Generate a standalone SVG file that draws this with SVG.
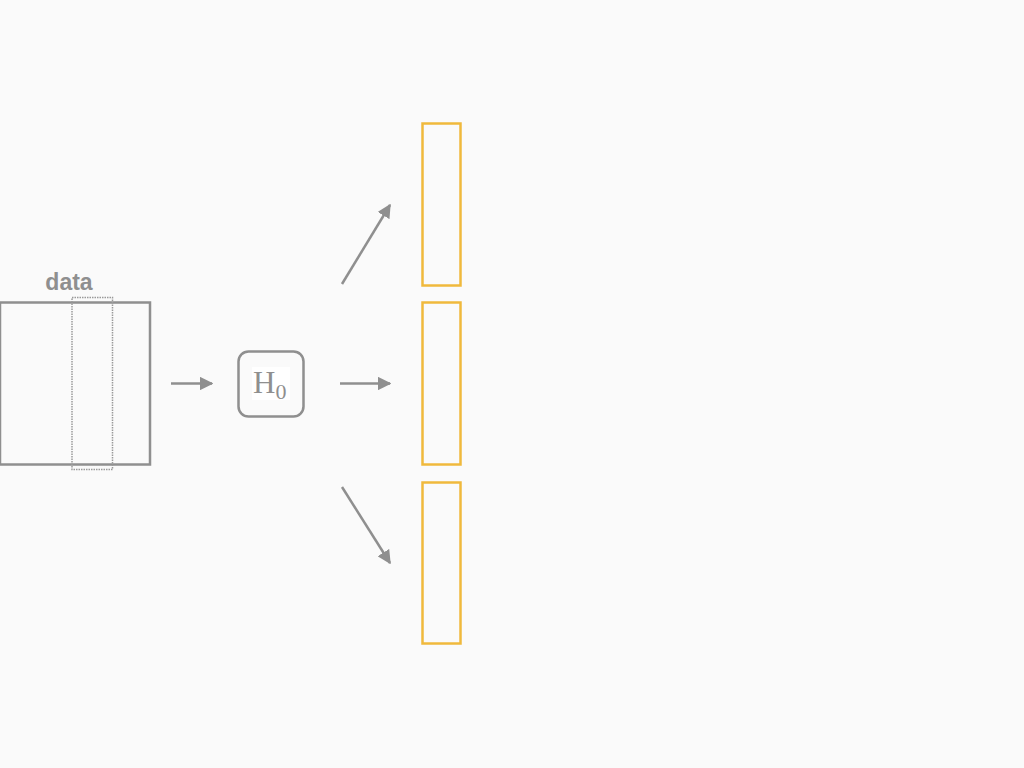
<svg xmlns="http://www.w3.org/2000/svg" width="1024" height="768" viewBox="0 0 1024 768">
<defs>
<style>
.g{fill:none;stroke:#8f8f8f;stroke-width:2.5}
.y{fill:none;stroke:#f0b93c;stroke-width:2.5}
.c{stroke:#8f8f8f;stroke-width:2.5;fill:none}
</style>
<marker id="ah" viewBox="0 0 10 10" refX="9" refY="5" markerWidth="5.5" markerHeight="5.5" markerUnits="strokeWidth" orient="auto">
<path d="M0,0 L10,5 L0,10 z" fill="#8f8f8f"/>
</marker>
</defs>
<rect width="1024" height="768" fill="#fafafa"/>
<g id="data">
<rect class="g" x="0" y="302.5" width="150" height="162"/>
<rect x="72" y="297.5" width="40.5" height="172" fill="none" stroke="#9a9a9a" stroke-width="1.5" stroke-dasharray="1.5 1"/>
<text x="69" y="289.5" font-family="Liberation Sans, Arial, sans-serif" font-weight="bold" font-size="23" fill="#8f8f8f" text-anchor="middle">data</text>
</g>
<g id="h0">
<rect class="g" x="238.5" y="351.5" width="65" height="65" rx="10"/>
<rect x="252" y="367" width="38" height="33" fill="#ffffff"/>
<text x="253" y="393" font-family="Liberation Serif, Times New Roman, serif" font-size="31" fill="#8f8f8f">H<tspan font-size="22" dy="6">0</tspan></text>
</g>
<g id="out1"><rect class="y" x="422.5" y="123.5" width="38" height="162"/></g>
<g id="out2"><rect class="y" x="422.5" y="302.5" width="38" height="162"/></g>
<g id="out3"><rect class="y" x="422.5" y="482.5" width="38" height="161"/></g>
<g id="connectors">
<line class="c" x1="171" y1="383.5" x2="212" y2="383.5" marker-end="url(#ah)"/>
<line class="c" x1="340" y1="383.5" x2="390" y2="383.5" marker-end="url(#ah)"/>
<line class="c" x1="342" y1="284" x2="390" y2="205" marker-end="url(#ah)"/>
<line class="c" x1="342" y1="487" x2="390" y2="563" marker-end="url(#ah)"/>
</g>
</svg>
